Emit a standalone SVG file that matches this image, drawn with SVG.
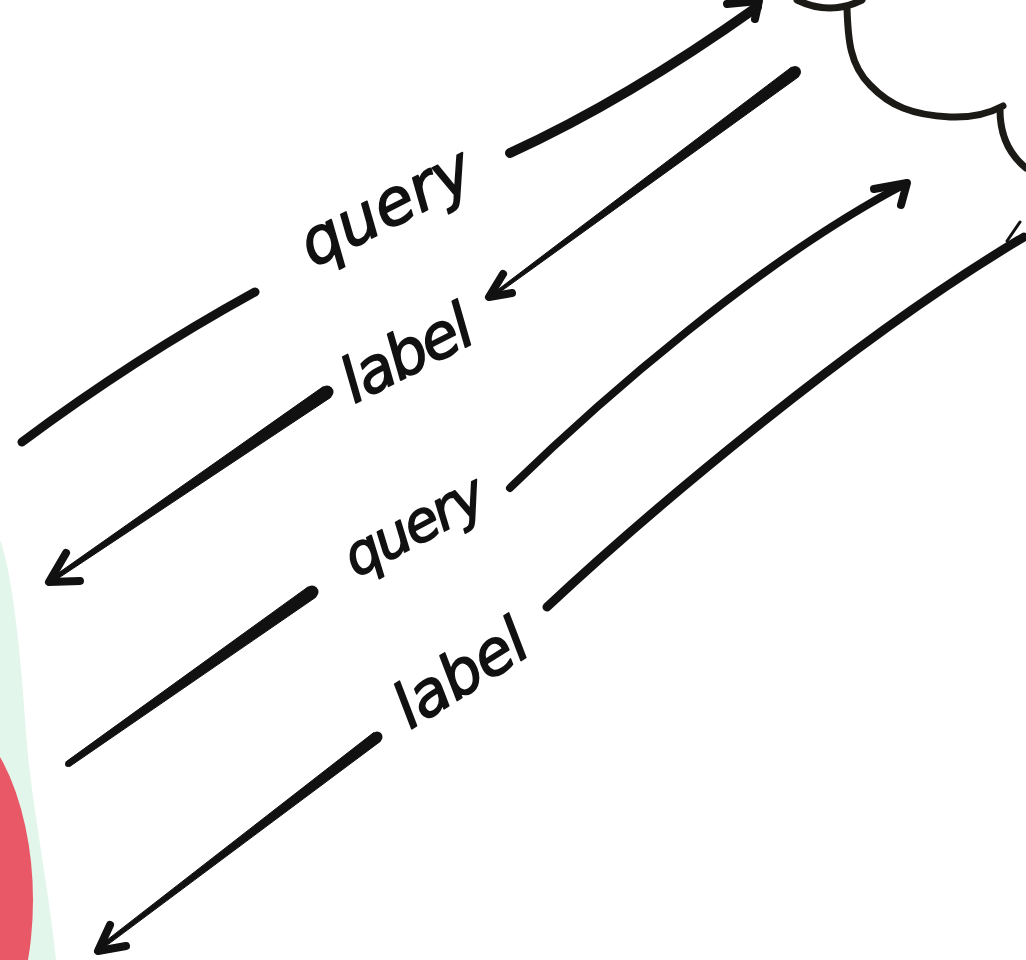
<svg xmlns="http://www.w3.org/2000/svg" width="1026" height="960" viewBox="0 0 1026 960">
  <style>
    .ink { fill: none; stroke: #111; stroke-linecap: round; stroke-linejoin: round; }
    .taper { fill: #111; stroke: #111; stroke-width: 1; stroke-linejoin: round; }
    .head { fill: none; stroke: #111; stroke-width: 8; stroke-linecap: round; stroke-linejoin: round; }
    .cloud { fill: none; stroke: #1c1a16; stroke-width: 7; stroke-linecap: round; stroke-linejoin: round; }
    .hand { font-family: "DejaVu Sans", "Liberation Sans", sans-serif; font-style: oblique; fill: #111; stroke: #111; stroke-width: 1.6; stroke-linejoin: round; }
  </style>
  <rect width="1026" height="960" fill="#ffffff"/>

  <g id="client-node">
    <path d="M0,540 C10,565 20,640 25,720 C30,800 48,880 56,960 L0,960 Z" fill="#e2f6ec"/>
    <ellipse cx="-70" cy="900" rx="103" ry="195" fill="#e85866"/>
  </g>

  <g id="cloud-node">
    <path class="cloud" d="M797,0 Q830,16 862,0" stroke-width="9"/>
    <path class="cloud" d="M847,8 C848,40 850,65 870,85 C890,106 912,115 950,117 C975,118 990,113 1003,106"/>
    <path class="cloud" d="M1000,110 C1000,135 1010,155 1026,168"/>
  </g>

  <g id="connectors">
    <!-- arrow 1: query (upper) -->
    <path class="ink" stroke-width="9" d="M22,442 Q135,358 255,292"/>
    <path class="ink" stroke-width="10" d="M510,153 Q626,100 757,7"/>
    <path class="head" d="M727,4 L759,1 L755,19"/>

    <!-- arrow 2: label (upper) -->
    <polygon class="taper" points="791.4,67.2 798.6,76.8 492.9,297.2 491.1,294.8"/>
    <circle cx="795" cy="72" r="6" fill="#111"/>
    <path class="head" stroke-width="6" d="M503,274 L489,297 L512,293"/>
    <polygon class="taper" points="323.3,386.6 330.7,397.4 53.1,581.7 50.9,578.3"/>
    <circle cx="327" cy="392" r="6.5" fill="#111"/>
    <path class="head" d="M66,553 L49,582 L80,581"/>

    <!-- arrow 3: query (lower) -->
    <path class="ink" stroke-width="8" d="M510,488 C600,400 760,260 905,184"/>
    <path class="head" d="M874,189 L907,183 L901,205"/>
    <polygon class="taper" points="308.3,586.7 315.7,597.3 69.7,766.5 66.3,761.6"/>
    <circle cx="312" cy="592" r="6.5" fill="#111"/>
    <circle cx="68" cy="764" r="3" fill="#111"/>

    <!-- arrow 4: label (lower) -->
    <path class="ink" stroke-width="9" d="M547,607 C640,520 850,340 1024,237"/>
    <path class="ink" stroke-width="3" d="M1007,241 L1020,222"/>
    <polygon class="taper" points="373.7,732.6 380.3,741.4 101.2,949.6 98.8,946.4"/>
    <circle cx="377" cy="737" r="5.5" fill="#111"/>
    <path class="head" stroke-width="6" d="M110,925 L98,951 L126,946"/>
  </g>

  <g id="labels">
    <text class="hand" font-size="64" textLength="185" lengthAdjust="spacing" transform="translate(313,268) rotate(-27)">query</text>
    <text class="hand" font-size="62" textLength="140" lengthAdjust="spacing" transform="translate(354,404) rotate(-27)">label</text>
    <text class="hand" font-size="56" textLength="152" lengthAdjust="spacing" transform="translate(356,578) rotate(-28)">query</text>
    <text class="hand" font-size="62" textLength="146" lengthAdjust="spacing" transform="translate(410,730) rotate(-32)">label</text>
  </g>
</svg>
